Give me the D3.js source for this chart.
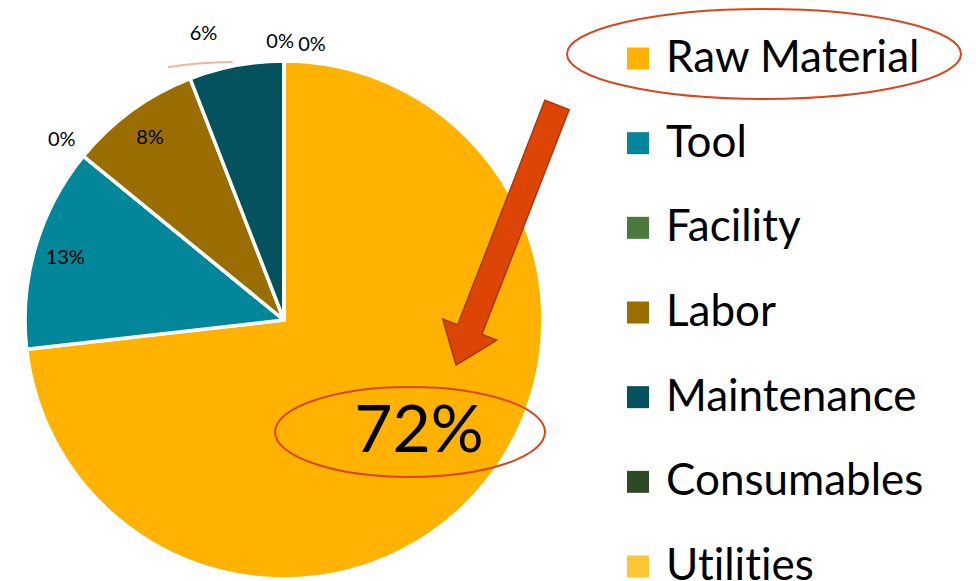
<!DOCTYPE html>
<html>
<head>
<meta charset="utf-8">
<script src="https://cdn.jsdelivr.net/npm/d3@7/dist/d3.min.js"></script>
<style>
  html, body { margin: 0; padding: 0; background: #fff; }
  svg { display: block; font-family: Lato, "Open Sans", sans-serif; font-variant-ligatures: none; font-feature-settings: "liga" 0; }
</style>
</head>
<body>
<svg id="chart" width="976" height="581"></svg>
<script>
// ---- data ----
const categories = ["Raw Material", "Tool", "Facility", "Labor", "Maintenance", "Consumables", "Utilities"];
const values     = [73.2, 12.7, 0, 8.2, 5.9, 0, 0];
const pctLabels  = ["72%", "13%", "0%", "8%", "6%", "0%", "0%"];
const colors     = ["#FFB300", "#02879A", "#4C7A3E", "#9A6D00", "#03525E", "#2E4A25", "#FFC532"];

// ---- layout ----
const svg = d3.select("#chart");
const cx = 284, cy = 320, R = 259;

const pie = d3.pie().sort(null).value(d => d.v).startAngle(0).endAngle(2 * Math.PI);
const data = categories.map((c, i) => ({ c, v: values[i], label: pctLabels[i], color: colors[i] }));
const arcs = pie(data);
const arc = d3.arc().innerRadius(0).outerRadius(R);

const g = svg.append("g").attr("transform", `translate(${cx},${cy})`);

g.selectAll("path.slice")
  .data(arcs)
  .enter().append("path")
  .attr("class", "slice")
  .attr("d", arc)
  .attr("fill", d => d.data.color)
  .attr("stroke", "#fff")
  .attr("stroke-width", 3.5)
  .attr("stroke-linejoin", "round");

// label placement (radius, angle offset in degrees) per slice
const placement = [
  null,                 // Raw Material: annotated separately
  { r: 228, a: 0 },     // Tool
  { r: 287, a: 0 },     // Facility
  { r: 228, a: 0 },     // Labor
  { r: 299, a: -5 },    // Maintenance (outside with leader)
  { r: 280, a: -0.8 },  // Consumables
  { r: 278, a: 5.8 }    // Utilities
];
function polar(r, ang) { return [r * Math.sin(ang), -r * Math.cos(ang)]; }
const deg = Math.PI / 180;

arcs.forEach((d, i) => {
  const p = placement[i];
  if (!p) return;
  const mid = (d.startAngle + d.endAngle) / 2 + p.a * deg;
  const [x, y] = polar(p.r, mid);
  g.append("text")
    .attr("x", x).attr("y", y)
    .attr("text-anchor", "middle")
    .attr("dominant-baseline", "central")
    .attr("font-size", 20)
    .attr("fill", "#000")
    .text(d.data.label);
});

// leader line for Maintenance label
const mArc = arcs[4];
const lA = polar(278, mArc.startAngle - 3.4 * deg);
const lC = polar(272, mArc.startAngle + 2.5 * deg);
const lB = polar(263, mArc.startAngle + 10 * deg);
g.append("path")
  .attr("d", `M${lA[0]},${lA[1]} Q${lC[0]},${lC[1]} ${lB[0]},${lB[1]}`)
  .attr("fill", "none")
  .attr("stroke", "#F4B39E")
  .attr("stroke-width", 2);

// big label for Raw Material
g.append("text")
  .attr("x", 135).attr("y", 132)
  .attr("text-anchor", "middle")
  .attr("font-size", 66)
  .attr("fill", "#000")
  .text(arcs[0].data.label);

// ---- annotations ----
svg.append("ellipse")
  .attr("cx", 410).attr("cy", 432).attr("rx", 135).attr("ry", 45)
  .attr("fill", "none").attr("stroke", "#D9461E").attr("stroke-width", 2);

// arrow (from legend toward the 72% label)
(function () {
  const x0 = 557, y0 = 105, x1 = 456, y1 = 365;
  const ang = Math.atan2(y1 - y0, x1 - x0);
  const len = Math.hypot(x1 - x0, y1 - y0);
  const sw = 13, hw = 29, hl = 38;
  const pts = [
    [0, -sw], [len - hl, -sw], [len - hl, -hw], [len, 0],
    [len - hl, hw], [len - hl, sw], [0, sw]
  ].map(([u, v]) => [x0 + u * Math.cos(ang) - v * Math.sin(ang), y0 + u * Math.sin(ang) + v * Math.cos(ang)]);
  svg.append("polygon")
    .attr("points", pts.map(p => p.join(",")).join(" "))
    .attr("fill", "#DC4504")
    .attr("stroke", "#A8380C")
    .attr("stroke-width", 1.5)
    .attr("stroke-linejoin", "miter");
})();

// ---- legend ----
const ly = d3.scalePoint().domain(categories).range([56, 564]);
const leg = svg.append("g");
categories.forEach((c, i) => {
  const y = ly(c);
  leg.append("rect")
    .attr("x", 627).attr("y", y - 8.5).attr("width", 22).attr("height", 22)
    .attr("fill", colors[i]);
  leg.append("text")
    .attr("x", 666).attr("y", y + 16)
    .attr("font-size", 44)
    .attr("fill", "#000")
    .text(c);
});

svg.append("ellipse")
  .attr("cx", 764).attr("cy", 54).attr("rx", 197).attr("ry", 45)
  .attr("fill", "none").attr("stroke", "#D9461E").attr("stroke-width", 2);
</script>
</body>
</html>
